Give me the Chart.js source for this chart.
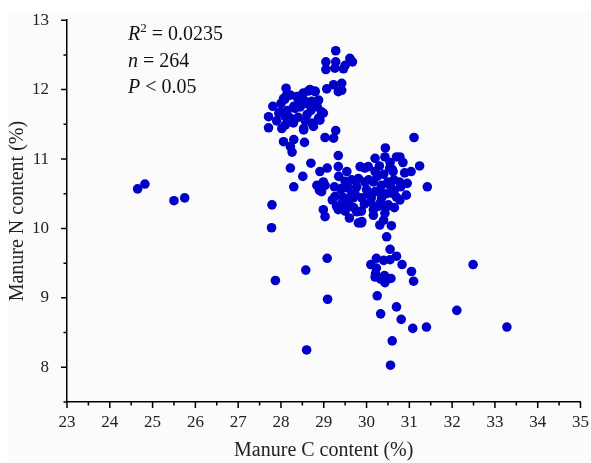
<!DOCTYPE html>
<html>
<head>
<meta charset="utf-8">
<script src="https://cdn.jsdelivr.net/npm/chart.js@4.4.1/dist/chart.umd.min.js"></script>
<style>
  html, body { margin: 0; padding: 0; background: #fff; }
</style>
</head>
<body>
<canvas id="chart" width="591" height="463"></canvas>
<script>
// Manure C content (%) and N content (%), one entry per sample, grouped by cluster
const manureC = [
    // outliers on the left and bottom
    24.65, 24.82, 25.50, 25.75, 27.78, 27.79, 27.87, 28.58, 28.60, 29.08, 29.09,
    // top cluster
    29.28, 29.05, 29.28, 29.05, 29.46, 29.61, 29.67, 29.50, 29.07, 29.23, 29.42, 29.34, 29.42, 29.26,
    // upper-left cluster
    28.12, 28.06, 28.22, 28.40, 28.49, 28.64, 28.80, 28.88, 28.72, 28.57,
    28.33, 27.81, 27.99, 27.71, 28.10, 27.90, 28.26, 27.71, 28.02, 28.61,
    28.57, 28.53, 28.76, 28.91, 28.99, 28.06, 28.30, 28.22, 28.26, 28.55,
    29.28, 29.03, 29.23, 28.09, 28.13, 28.37, 28.52, 28.68, 28.60, 28.30,
    27.95, 28.22, 28.29, 28.10, 28.72, 28.88, 28.95, 28.53, 28.79,
    28.45, 28.40, 28.70, 28.15, 28.00, 28.85,
    // between clusters
    28.22, 28.30, 28.70, 28.51, 28.91, 29.08, 28.99, 28.84, 29.34, 28.95, 28.90,
    // central cluster
    31.11, 30.44, 30.20, 30.43, 30.70, 30.78, 29.34, 29.54, 29.85, 30.04,
    29.03, 29.26, 29.40, 29.54, 29.77, 29.96, 29.69, 29.89, 29.42, 29.54,
    29.34, 28.99, 29.03, 29.77, 29.89, 30.16, 30.20, 30.20, 30.54, 30.62,
    30.89, 31.04, 31.24, 31.42, 30.16, 30.35, 30.50, 30.77, 30.93, 30.78,
    30.58, 30.35, 30.11, 30.27, 30.51, 30.43, 30.16, 30.40, 30.00, 29.20,
    29.30, 29.50, 29.57, 29.73, 29.88, 29.81, 29.50, 29.65, 29.42, 29.57,
    29.81, 29.88, 30.31, 30.58, 30.33, 30.10, 30.64, 30.80, 29.96, 30.60,
    30.25, 30.40, 30.30, 30.45, 30.65, 30.70, 30.55, 30.05, 29.65, 29.70,
    29.45, 29.60, 29.95, 30.05, 30.30, 30.55, 30.85, 30.95, 29.35, 29.25,
    30.45, 30.65,
    // lower tail
    30.47, 30.55, 30.23, 30.70, 30.55, 30.40, 30.10, 30.83, 31.05, 31.10,
    32.49, 30.21, 30.20, 30.33, 30.42, 30.57, 30.43, 30.25, 30.33, 30.70,
    30.81, 31.08, 31.40, 32.11, 33.28, 30.60, 30.56, 30.23
];

const manureN = [
    10.57, 10.64, 10.40, 10.44, 10.01, 10.34, 9.25, 9.40, 8.25, 9.57, 8.98,
    12.56, 12.40, 12.40, 12.29, 12.30, 12.45, 12.40, 12.35, 12.01, 12.07, 12.09, 11.97, 11.99, 12.31,
    12.02, 11.87, 11.92, 11.87, 11.92, 11.98, 11.97, 11.85, 11.83, 11.83,
    11.73, 11.76, 11.68, 11.61, 11.61, 11.55, 11.54, 11.45, 11.44, 11.64,
    11.55, 11.42, 11.47, 11.56, 11.66, 11.25, 11.28, 11.18, 11.10, 11.24,
    11.41, 11.31, 11.30, 11.86, 11.92, 11.90, 11.95, 12.00, 11.80, 11.76,
    11.66, 11.59, 11.52, 11.49, 11.52, 11.59, 11.68, 11.44, 11.98,
    11.75, 11.60, 11.70, 11.70, 11.80, 11.75,
    10.87, 10.60, 10.94, 10.75, 10.82, 10.87, 10.67, 10.62, 11.05, 10.53, 10.55,
    11.31, 11.16, 11.01, 11.03, 11.03, 11.03, 10.89, 10.82, 10.89, 10.89,
    10.62, 10.46, 10.56, 10.62, 10.60, 10.67, 10.44, 10.44, 10.36, 10.32,
    10.27, 10.27, 10.17, 10.24, 10.10, 10.27, 10.53, 10.82, 10.87, 10.82,
    10.80, 10.82, 10.90, 10.60, 10.67, 10.62, 10.67, 10.67, 10.48, 10.41,
    10.51, 10.44, 10.44, 10.32, 10.34, 10.22, 10.19, 10.12, 10.56, 10.41,
    10.32, 10.25, 10.38, 10.50, 10.25, 10.72, 10.68, 10.48, 10.58, 10.58,
    10.08, 10.08, 10.05, 10.04, 10.38, 10.38, 10.70, 10.60, 10.87, 10.85,
    10.75, 10.78, 10.55, 10.50, 10.55, 10.45, 10.62, 10.70, 10.70, 10.30,
    10.45, 10.15, 10.35, 10.50, 10.90, 10.95, 10.95, 10.65, 10.75, 10.60,
    10.30, 10.30,
    9.88, 9.70, 9.57, 9.60, 9.55, 9.54, 9.48, 9.48, 9.38, 9.24,
    9.48, 9.35, 9.30, 9.27, 9.32, 9.28, 9.22, 9.03, 8.77, 8.87,
    8.69, 8.56, 8.58, 8.82, 8.58, 8.38, 8.03, 9.43
];

const statLines = [
    [['R', true], ['2', false, true], [' = 0.0235', false]],
    [['n', true], [' = 264', false]],
    [['P', true], [' < 0.05', false]]
];

const serif = "'Liberation Serif', 'DejaVu Serif', serif";

// outward ticks, long on whole numbers and short on halves
const axisTicks = {
    id: 'axisTicks',
    afterDraw(chart) {
        const { ctx, chartArea, scales } = chart;
        ctx.save();
        ctx.strokeStyle = '#000';
        ctx.lineWidth = 1.5;
        ctx.beginPath();
        for (let v = 23; v <= 35.001; v += 0.5) {
            const px = scales.x.getPixelForValue(v);
            const len = Number.isInteger(v) ? 6 : 3.5;
            ctx.moveTo(px, chartArea.bottom);
            ctx.lineTo(px, chartArea.bottom + len);
        }
        for (let v = 7.5; v <= 13.001; v += 0.5) {
            const py = scales.y.getPixelForValue(v);
            const len = Number.isInteger(v) ? 6 : 3.5;
            ctx.moveTo(chartArea.left, py);
            ctx.lineTo(chartArea.left - len, py);
        }
        ctx.stroke();
        ctx.restore();
    }
};

const statsText = {
    id: 'statsText',
    afterDraw(chart) {
        const ctx = chart.ctx;
        ctx.save();
        ctx.fillStyle = '#111';
        ctx.textBaseline = 'alphabetic';
        statLines.forEach((line, i) => {
            let x = 128;
            const y = 40 + i * 26.5;
            line.forEach(([txt, italic, sup]) => {
                const size = sup ? 13 : 20;
                ctx.font = (italic ? 'italic ' : '') + size + 'px ' + serif;
                ctx.fillText(txt, x, sup ? y - 8 : y);
                x += ctx.measureText(txt).width;
            });
        });
        ctx.restore();
    }
};

const paperBg = {
    id: 'paperBg',
    beforeDraw(chart) {
        const ctx = chart.ctx;
        ctx.save();
        ctx.fillStyle = '#fbfbfb';
        ctx.fillRect(8, 12, chart.width - 8, chart.height - 12);
        ctx.restore();
    }
};

new Chart(document.getElementById('chart'), {
    type: 'scatter',
    data: {
        datasets: [{
            data: manureC.map((c, i) => ({ x: c, y: manureN[i] })),
            backgroundColor: '#0000c8',
            borderColor: '#0000c8',
            borderWidth: 0,
            pointRadius: 4.8,
            pointHoverRadius: 4.8
        }]
    },
    options: {
        responsive: false,
        animation: false,
        layout: { padding: { top: 19, right: 0, left: 0, bottom: 0 } },
        plugins: {
            legend: { display: false },
            tooltip: { enabled: false }
        },
        scales: {
            x: {
                type: 'linear',
                min: 23,
                max: 35,
                afterFit: s => { s.height = 61; },
                grid: { display: false },
                border: { display: true, color: '#000', width: 1.5 },
                ticks: {
                    stepSize: 0.5,
                    autoSkip: false,
                    maxRotation: 0,
                    padding: 2,
                    color: '#222',
                    font: { family: serif, size: 17 },
                    callback: v => Number.isInteger(v) ? v : ''
                },
                title: {
                    display: true,
                    text: 'Manure C content (%)',
                    color: '#222',
                    font: { family: serif, size: 20 },
                    padding: { top: 0, bottom: 0 }
                }
            },
            y: {
                type: 'linear',
                min: 7.5,
                max: 13,
                afterFit: s => { s.width = 67; },
                grid: { display: false },
                border: { display: true, color: '#000', width: 1.5 },
                ticks: {
                    stepSize: 0.5,
                    autoSkip: false,
                    padding: 10,
                    color: '#222',
                    font: { family: serif, size: 17 },
                    callback: v => Number.isInteger(v) ? v : ''
                },
                title: {
                    display: true,
                    text: 'Manure N content (%)',
                    color: '#222',
                    font: { family: serif, size: 20 },
                    padding: { top: 6, bottom: 0 }
                }
            }
        }
    },
    plugins: [paperBg, axisTicks, statsText]
});
</script>
</body>
</html>
